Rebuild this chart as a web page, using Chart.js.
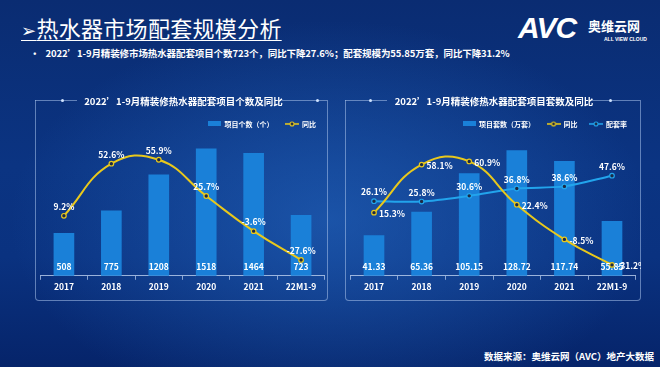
<!DOCTYPE html>
<html>
<head>
<meta charset="utf-8">
<script src="https://cdn.jsdelivr.net/npm/chart.js@4.4.1/dist/chart.umd.min.js"></script>
<style>
  html, body { margin: 0; padding: 0; background: #fff; }
  #slide {
    position: relative; width: 660px; height: 367px; overflow: hidden;
    background:
      radial-gradient(ellipse 320px 200px at 50% 60%, rgba(40,110,200,0.55), rgba(40,110,200,0) 100%),
      linear-gradient(180deg, #0a2c72 0%, #0b3482 45%, #0a3280 70%, #06246a 100%);
    font-family: 'Noto Sans CJK SC', sans-serif;
  }
  .head {
    position: absolute; left: 21px; top: 11px; color: #fff; font-size: 22px;
    text-decoration: underline; text-underline-offset: 3px; text-decoration-thickness: 1px;
    letter-spacing: 0.3px;
  }
  .head span { font-family: 'DejaVu Sans', sans-serif; font-size: 18px; }
  .bullet {
    position: absolute; left: 30px; top: 46px; color: #fff; font-size: 9.5px; font-weight: bold;
    letter-spacing: -0.1px;
  }
  .logo { position: absolute; left: 518px; top: 11px; color: #fff; }
  .logo .avc { position: absolute; left: 0; top: 0; font: italic bold 30px 'Liberation Sans', sans-serif; letter-spacing: -1px; }
  .logo .cn { position: absolute; left: 70px; top: 5px; font-size: 13px; font-weight: bold; white-space: nowrap; }
  .logo .en { position: absolute; left: 86px; top: 25px; font: bold 5px 'Liberation Sans', sans-serif; white-space: nowrap; }
  .panel {
    position: absolute; border: 1px solid rgba(170,195,235,0.55); border-top: none;
    border-radius: 0 0 4px 4px;
  }
  .seg { position: absolute; height: 1px; background: rgba(170,195,235,0.55); }
  .dot { position: absolute; width: 3px; height: 3px; border-radius: 50%; background: #cfe3ff; }
  canvas { position: absolute; }
  .src {
    position: absolute; right: 6px; top: 349px; color: #fff; font-size: 9.5px; font-weight: bold;
  }
</style>
</head>
<body>
<div id="slide">
  <div class="head"><span>➢</span>热水器市场配套规模分析</div>
  <div class="logo"><div class="avc">AVC</div><div class="cn">奥维云网</div><div class="en">ALL VIEW CLOUD</div></div>
  <div class="bullet">•&nbsp;&nbsp;&nbsp;2022’1-9月精装修市场热水器配套项目个数723个，同比下降27.6%；配套规模为55.85万套，同比下降31.2%</div>

  <div class="panel" style="left:35px;top:100px;width:291px;height:200px;"></div>
  <div class="seg" style="left:35px;top:100px;width:42px;"></div>
  <div class="seg" style="left:282px;top:100px;width:45px;"></div>
  <div class="dot" style="left:61px;top:99px;"></div>
  <div class="dot" style="left:316px;top:99px;"></div>

  <div class="panel" style="left:345px;top:100px;width:294px;height:200px;"></div>
  <div class="seg" style="left:345px;top:100px;width:42px;"></div>
  <div class="seg" style="left:592px;top:100px;width:48px;"></div>
  <div class="dot" style="left:369px;top:99px;"></div>
  <div class="dot" style="left:609px;top:99px;"></div>

  <canvas id="leftChart" width="295" height="207" style="left:35px;top:93px;"></canvas>
  <canvas id="rightChart" width="296" height="207" style="left:345px;top:93px;"></canvas>

  <div class="src">数据来源：奥维云网（AVC）地产大数据</div>
</div>

<script>
// 数据
const years = ['2017', '2018', '2019', '2020', '2021', '22M1-9'];
const projectCount = [508, 775, 1208, 1518, 1464, 723];
const countYoy = [9.2, 52.6, 55.9, 25.7, -3.6, -27.6];
const setCount = [41.33, 65.36, 105.15, 128.72, 117.74, 55.85];
const setYoy = [15.3, 58.1, 60.9, 22.4, -8.5, -31.2];
const setRate = [26.1, 25.8, 30.6, 36.8, 38.6, 47.6];

const BAR = '#1a80d8';
const YELLOW = '#e8c81c';
const CYAN = '#22a4ec';

Chart.defaults.font.family = "'Noto Sans CJK SC', sans-serif";
Chart.defaults.color = '#fff';

// legend icons
function boxIcon(color) {
    const c = document.createElement('canvas');
    c.width = 13; c.height = 5;
    const g = c.getContext('2d');
    g.fillStyle = color;
    g.fillRect(0, 0, 13, 5);
    return c;
}
function lineIcon(color) {
    const c = document.createElement('canvas');
    c.width = 14; c.height = 6;
    const g = c.getContext('2d');
    g.strokeStyle = color; g.lineWidth = 1.6;
    g.beginPath(); g.moveTo(0, 3); g.lineTo(14, 3); g.stroke();
    g.fillStyle = '#1d2a44'; g.lineWidth = 1.1;
    g.beginPath(); g.arc(7, 3, 2, 0, Math.PI * 2); g.fill(); g.stroke();
    return c;
}

// zahlen auf die balken / punkte
const valueLabels = {
    id: 'valueLabels',
    afterDatasetsDraw(chart) {
        const ctx = chart.ctx;
        chart.data.datasets.forEach((ds, i) => {
            const meta = chart.getDatasetMeta(i);
            meta.data.forEach((el, j) => {
                const txt = ds.fmt(ds.data[j]);
                ctx.save();
                ctx.font = "bold 8.5px 'Noto Sans CJK SC', sans-serif";
                ctx.fillStyle = '#fff';
                ctx.textBaseline = 'middle';
                if (ds.labelPos === 'base') {
                    ctx.textAlign = 'center';
                    ctx.fillText(txt, el.x, el.base - 9);
                } else if (ds.labelPos === 'right') {
                    ctx.textAlign = 'left';
                    ctx.fillText(txt, el.x + 5, el.y + 1);
                } else {
                    ctx.textAlign = 'center';
                    ctx.fillText(txt, el.x, el.y - 9);
                }
                ctx.restore();
            });
        });
    }
};

const pct = v => v.toFixed(1) + '%';

function baseOptions(title, yScales) {
    return {
        responsive: false,
        animation: false,
        layout: { padding: { left: 4, right: 2, bottom: 6 } },
        plugins: {
            title: {
                display: true, text: title, color: '#fff',
                font: { size: 9.5, weight: 'bold' },
                padding: { top: 3, bottom: 1 }
            },
            legend: {
                align: 'end',
                labels: {
                    color: '#fff', font: { size: 7, weight: 'bold' },
                    usePointStyle: true, pointStyleWidth: 13, padding: 12, boxHeight: 7,
                    generateLabels: chart => chart.data.datasets.map((ds, i) => ({
                        text: ds.label, pointStyle: ds.icon, fontColor: '#fff',
                        datasetIndex: i, lineWidth: 0, strokeStyle: 'transparent'
                    }))
                }
            },
            tooltip: { enabled: false }
        },
        scales: Object.assign({
            x: {
                offset: true,
                grid: { display: true, offset: true, drawOnChartArea: false, tickLength: 4, color: 'rgba(190,210,240,0.7)' },
                border: { color: 'rgba(190,210,240,0.8)' },
                ticks: { color: '#fff', font: { size: 8.5, weight: 'bold' }, padding: 2 }
            }
        }, yScales)
    };
}

new Chart(document.getElementById('leftChart'), {
    data: {
        labels: years,
        datasets: [
            {
                type: 'bar', label: '项目个数（个）', data: projectCount, yAxisID: 'y',
                backgroundColor: BAR, barThickness: 20, order: 2,
                labelPos: 'base', fmt: v => String(v), icon: boxIcon(BAR)
            },
            {
                type: 'line', label: '同比', data: countYoy, yAxisID: 'y1',
                borderColor: YELLOW, borderWidth: 2, tension: 0.45,
                pointRadius: 2.3, pointBackgroundColor: '#1d2a44', pointBorderColor: YELLOW, pointBorderWidth: 1.2,
                order: 1, labelPos: 'top', fmt: pct, icon: lineIcon(YELLOW)
            }
        ]
    },
    options: baseOptions('2022’1-9月精装修热水器配套项目个数及同比', {
        y: { display: false, min: 0, max: 1654 },
        y1: { display: false, min: -40.8, max: 74.5 }
    }),
    plugins: [valueLabels]
});

new Chart(document.getElementById('rightChart'), {
    data: {
        labels: years,
        datasets: [
            {
                type: 'bar', label: '项目套数（万套）', data: setCount, yAxisID: 'y',
                backgroundColor: BAR, barThickness: 20, order: 3,
                labelPos: 'base', fmt: v => v.toFixed(2), icon: boxIcon(BAR)
            },
            {
                type: 'line', label: '同比', data: setYoy, yAxisID: 'y1',
                borderColor: YELLOW, borderWidth: 2, tension: 0.45,
                pointRadius: 2.3, pointBackgroundColor: '#1d2a44', pointBorderColor: YELLOW, pointBorderWidth: 1.2,
                order: 1, labelPos: 'right', fmt: pct, icon: lineIcon(YELLOW)
            },
            {
                type: 'line', label: '配套率', data: setRate, yAxisID: 'y2',
                borderColor: CYAN, borderWidth: 2, tension: 0.3,
                pointRadius: 2.3, pointBackgroundColor: '#1d2a44', pointBorderColor: CYAN, pointBorderWidth: 1.2,
                order: 2, labelPos: 'top', fmt: pct, icon: lineIcon(CYAN)
            }
        ]
    },
    options: baseOptions('2022’1-9月精装修热水器配套项目套数及同比', {
        y: { display: false, min: 0, max: 142.2 },
        y1: { display: false, min: -40.9, max: 82.3 },
        y2: { display: false, min: -36.8, max: 79.9 }
    }),
    plugins: [valueLabels]
});
</script>
</body>
</html>
